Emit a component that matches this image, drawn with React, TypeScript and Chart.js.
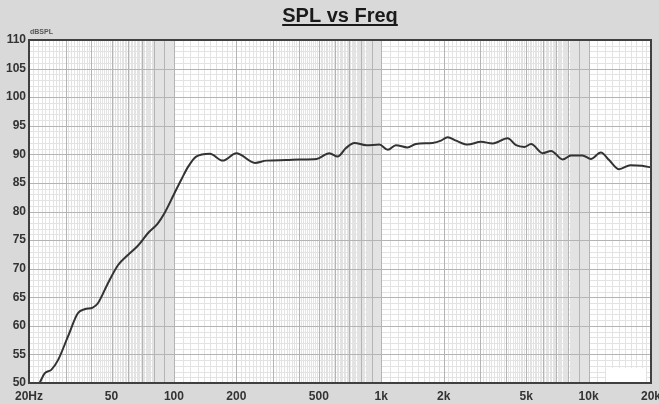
import React, { useEffect, useRef } from 'react';
import { Chart, registerables } from 'chart.js';

Chart.register(...registerables);

// ---- data ----
const freqs = [22.5, 23.8, 25.6, 27.6, 30.8, 34.4, 37.1, 40.6, 42.9, 48, 53.7, 60, 67, 74.9, 83.5, 90, 100.6, 108.6, 117, 128, 149, 172, 200, 246, 279, 348, 404, 487, 562, 616, 676, 742, 846, 980, 1076, 1176, 1338, 1470, 1768, 1942, 2090, 2292, 2608, 3028, 3446, 4070, 4468, 4900, 5280, 6006, 6596, 7500, 8226, 9340, 10260, 11460, 12560, 14020, 15920, 18100, 20000];
const spl = [50.0, 51.7, 52.3, 54.0, 58.1, 62.2, 62.9, 63.2, 63.9, 67.4, 70.6, 72.4, 74.0, 76.2, 77.9, 79.7, 83.2, 85.6, 87.8, 89.6, 90.1, 88.9, 90.2, 88.5, 88.9, 89.0, 89.1, 89.2, 90.2, 89.6, 91.1, 92.0, 91.6, 91.7, 90.8, 91.6, 91.2, 91.8, 92.0, 92.4, 93.0, 92.4, 91.7, 92.2, 91.9, 92.8, 91.6, 91.3, 91.8, 90.2, 90.6, 89.1, 89.8, 89.8, 89.2, 90.3, 89.0, 87.4, 88.1, 88.0, 87.7];
const xTickValues = [20, 50, 100, 200, 500, 1000, 2000, 5000, 10000, 20000];
const xTickLabels = ['20Hz', '50', '100', '200', '500', '1k', '2k', '5k', '10k', '20k'];
const yMin = 50;
const yMax = 110;
const yMajorStep = 5;
const yMinorStep = 1;
const decades = [10, 100, 1000, 10000];
const titleText = 'SPL vs Freq';
const yUnitText = 'dBSPL';

const FONT = '"Liberation Sans", Arial, Helvetica, sans-serif';

const gridPlugin = {
  id: 'splGrid',
  beforeDatasetsDraw(chart: any) {
    const { ctx, chartArea: a, scales } = chart;
    const xs = scales.x;
    const ys = scales.y;
    const fMin = xs.min;
    const fMax = xs.max;
    ctx.save();
    ctx.fillStyle = '#ffffff';
    ctx.fillRect(a.left, a.top, a.right - a.left, a.bottom - a.top);
    ctx.lineWidth = 1;

    // minor vertical
    ctx.strokeStyle = '#e3e3e3';
    ctx.beginPath();
    for (const d of decades) {
      for (let k = 11; k < 100; k++) {
        if (k % 10 === 0) continue;
        const f = (d * k) / 10;
        if (f <= fMin || f >= fMax) continue;
        const x = Math.round(xs.getPixelForValue(f)) + 0.5;
        ctx.moveTo(x, a.top);
        ctx.lineTo(x, a.bottom);
      }
    }
    // minor horizontal
    for (let v = yMin + yMinorStep; v < yMax; v += yMinorStep) {
      if (v % yMajorStep === 0) continue;
      const y = Math.round(ys.getPixelForValue(v)) + 0.5;
      ctx.moveTo(a.left, y);
      ctx.lineTo(a.right, y);
    }
    ctx.stroke();

    // major
    ctx.strokeStyle = '#b4b4b4';
    ctx.beginPath();
    for (const d of decades) {
      for (let m = 1; m <= 9; m++) {
        const f = d * m;
        if (f <= fMin || f >= fMax) continue;
        const x = Math.round(xs.getPixelForValue(f)) + 0.5;
        ctx.moveTo(x, a.top);
        ctx.lineTo(x, a.bottom);
      }
    }
    for (let v = yMin + yMajorStep; v < yMax; v += yMajorStep) {
      const y = Math.round(ys.getPixelForValue(v)) + 0.5;
      ctx.moveTo(a.left, y);
      ctx.lineTo(a.right, y);
    }
    ctx.stroke();

    // empty legend box
    ctx.fillStyle = '#ffffff';
    ctx.fillRect(a.right - 45, a.bottom - 15, 40, 14);
    ctx.restore();
  },
  afterDatasetsDraw(chart: any) {
    const { ctx, chartArea: a } = chart;
    ctx.save();
    ctx.strokeStyle = '#404040';
    ctx.lineWidth = 2;
    ctx.strokeRect(a.left, a.top, a.right - a.left, a.bottom - a.top);
    ctx.restore();
  },
  afterDraw(chart: any) {
    const { ctx, chartArea: a } = chart;
    ctx.save();
    const cx = (a.left + a.right) / 2;
    ctx.font = `bold 20px ${FONT}`;
    ctx.fillStyle = '#1a1a1a';
    ctx.textAlign = 'center';
    ctx.textBaseline = 'alphabetic';
    ctx.fillText(titleText, cx, 22);
    const w = ctx.measureText(titleText).width;
    ctx.fillRect(cx - w / 2, 24, w, 2);
    ctx.font = `bold 7px ${FONT}`;
    ctx.fillStyle = '#555';
    ctx.textAlign = 'left';
    ctx.fillText(yUnitText, a.left + 1, a.top - 6);
    ctx.restore();
  },
};

export default function App() {
  const ref = useRef<HTMLCanvasElement | null>(null);
  useEffect(() => {
    if (!ref.current) return;
    const data = freqs.map((f, i) => ({ x: f, y: spl[i] }));
    const chart = new Chart(ref.current, {
      type: 'line',
      data: {
        datasets: [
          {
            data,
            borderColor: '#333333',
            borderWidth: 2,
            pointRadius: 0,
            fill: false,
            cubicInterpolationMode: 'monotone',
          },
        ],
      },
      options: {
        animation: false,
        responsive: false,
        devicePixelRatio: 1,
        layout: { padding: { top: 40, right: 8, left: 0, bottom: 0 } },
        plugins: { legend: { display: false }, title: { display: false }, tooltip: { enabled: false } },
        scales: {
          x: {
            type: 'logarithmic',
            min: 20,
            max: 20000,
            grid: { display: false, drawTicks: false },
            border: { display: false },
            afterBuildTicks: (s: any) => {
              s.ticks = xTickValues.map((v) => ({ value: v }));
            },
            afterFit: (s: any) => {
              s.height = 21;
              s.paddingLeft = 0;
              s.paddingRight = 0;
            },
            ticks: {
              autoSkip: false,
              maxRotation: 0,
              minRotation: 0,
              padding: 6,
              color: '#333',
              font: { family: FONT, size: 12, weight: 'bold' },
              callback: (v: any) => {
                const i = xTickValues.indexOf(Number(v));
                return i >= 0 ? xTickLabels[i] : '';
              },
            },
          },
          y: {
            type: 'linear',
            min: yMin,
            max: yMax,
            grid: { display: false, drawTicks: false },
            border: { display: false },
            afterFit: (s: any) => {
              s.width = 29;
              s.paddingTop = 0;
              s.paddingBottom = 0;
            },
            ticks: {
              stepSize: yMajorStep,
              padding: 3,
              color: '#333',
              font: { family: FONT, size: 12, weight: 'bold' },
            },
          },
        },
      } as any,
      plugins: [gridPlugin],
    });
    return () => chart.destroy();
  }, []);
  return (
    <div style={{ position: 'absolute', left: 0, top: 0, width: 659, height: 404, background: '#d9d9d9' }}>
      <canvas ref={ref} width={659} height={404} style={{ display: 'block', width: 659, height: 404 }} />
    </div>
  );
}
